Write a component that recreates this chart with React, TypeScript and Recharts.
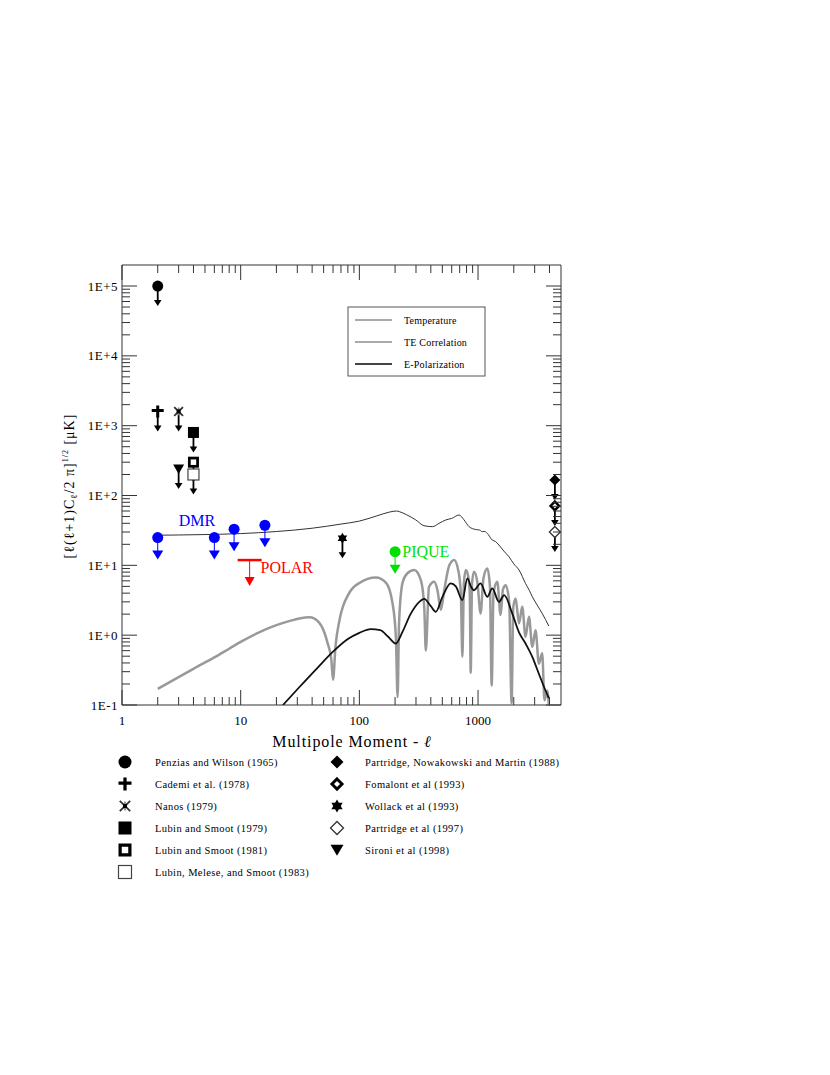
import React from 'react';
import { ComposedChart, Line, Scatter, XAxis, YAxis, ReferenceArea } from 'recharts';

// multipole l against [l(l+1)Cl/2pi]^1/2 in uK
const temperature = [
  { l: 2, v: 27 }, { l: 3, v: 27.2 }, { l: 5, v: 27.6 }, { l: 10, v: 28.5 }, { l: 20, v: 30.5 },
  { l: 40, v: 34 }, { l: 70, v: 39 }, { l: 100, v: 43 }, { l: 140, v: 51 }, { l: 180, v: 58 },
  { l: 205, v: 60 }, { l: 217, v: 58.8 }, { l: 250, v: 53 }, { l: 299, v: 44.7 }, { l: 350, v: 37 },
  { l: 413, v: 35.8 }, { l: 470, v: 40 }, { l: 535, v: 44.7 }, { l: 600, v: 47 }, { l: 692, v: 52.6 },
  { l: 760, v: 45 }, { l: 840, v: 35.8 }, { l: 955, v: 32.6 }, { l: 1030, v: 32 }, { l: 1087, v: 30.4 },
  { l: 1140, v: 30.5 }, { l: 1197, v: 28.7 }, { l: 1318, v: 23 }, { l: 1400, v: 22 }, { l: 1500, v: 19.5 },
  { l: 1650, v: 16 }, { l: 1820, v: 13.3 }, { l: 2000, v: 10.5 }, { l: 2213, v: 8.6 }, { l: 2513, v: 5.5 },
  { l: 2700, v: 4.4 }, { l: 2865, v: 3.55 }, { l: 3150, v: 2.7 }, { l: 3470, v: 2.05 }, { l: 3950, v: 1.35 },
];

const teCorrelation = [
  { l: 2, v: 0.17 }, { l: 3, v: 0.25 }, { l: 4, v: 0.33 }, { l: 6, v: 0.48 }, { l: 8, v: 0.64 },
  { l: 10, v: 0.8 }, { l: 14, v: 1.08 }, { l: 20, v: 1.39 }, { l: 26, v: 1.6 }, { l: 32, v: 1.75 },
  { l: 38, v: 1.8 }, { l: 46, v: 1.5 }, { l: 54, v: 0.77 }, { l: 58, v: 0.45 },
  { l: 60, v: 0.23 }, { l: 63, v: 0.7 }, { l: 68, v: 1.64 }, { l: 82, v: 4.0 }, { l: 100, v: 5.6 },
  { l: 138, v: 6.7 }, { l: 168, v: 5.6 }, { l: 190, v: 2.9 }, { l: 203, v: 0.95 }, { l: 210, v: 0.13 },
  { l: 216, v: 1.5 }, { l: 231, v: 5.6 }, { l: 254, v: 7.7 }, { l: 290, v: 8.6 }, { l: 330, v: 6.1 },
  { l: 352, v: 2.55 }, { l: 363, v: 0.6 }, { l: 386, v: 4.9 }, { l: 427, v: 5.8 }, { l: 455, v: 4.4 },
  { l: 486, v: 2.3 }, { l: 519, v: 4.4 }, { l: 573, v: 10 }, { l: 629, v: 11.9 }, { l: 680, v: 8.6 },
  { l: 716, v: 4 }, { l: 738, v: 0.49 }, { l: 760, v: 5.6 }, { l: 788, v: 8.6 }, { l: 829, v: 6.8 },
  { l: 852, v: 4 }, { l: 867, v: 0.29 }, { l: 890, v: 5.5 }, { l: 925, v: 8.1 }, { l: 990, v: 5.5 },
  { l: 1050, v: 2.05 }, { l: 1110, v: 6.5 }, { l: 1197, v: 9.0 }, { l: 1260, v: 5 }, { l: 1303, v: 0.19 },
  { l: 1350, v: 4 }, { l: 1452, v: 5.8 }, { l: 1550, v: 1.94 }, { l: 1620, v: 4.5 }, { l: 1710, v: 5.2 },
  { l: 1830, v: 3 }, { l: 1918, v: 0.106 }, { l: 1980, v: 2.5 }, { l: 2074, v: 3.36 }, { l: 2213, v: 1.47 },
  { l: 2357, v: 2.55 }, { l: 2513, v: 0.945 }, { l: 2685, v: 1.83 }, { l: 2865, v: 0.68 }, { l: 3050, v: 1.18 },
  { l: 3255, v: 0.39 }, { l: 3470, v: 0.55 }, { l: 3630, v: 0.117 }, { l: 3830, v: 0.16 }, { l: 3950, v: 0.1 },
];

const ePolarization = [
  { l: 22.7, v: 0.1 }, { l: 31, v: 0.178 }, { l: 45, v: 0.35 }, { l: 60, v: 0.58 }, { l: 80, v: 0.88 },
  { l: 100, v: 1.08 }, { l: 125, v: 1.22 }, { l: 150, v: 1.18 }, { l: 175, v: 0.95 }, { l: 203, v: 0.76 },
  { l: 230, v: 1.1 }, { l: 270, v: 2.0 }, { l: 320, v: 3.0 }, { l: 352, v: 3.3 }, { l: 400, v: 2.6 },
  { l: 441, v: 2.16 }, { l: 500, v: 3.5 }, { l: 589, v: 5.5 }, { l: 650, v: 5.0 }, { l: 738, v: 3.18 },
  { l: 813, v: 6.5 }, { l: 870, v: 5.0 }, { l: 925, v: 4.4 }, { l: 1050, v: 5.5 }, { l: 1197, v: 3.55 },
  { l: 1318, v: 4.67 }, { l: 1500, v: 3.0 }, { l: 1660, v: 3.75 }, { l: 1940, v: 2.05 }, { l: 2213, v: 1.1 },
  { l: 2513, v: 0.76 }, { l: 2865, v: 0.49 }, { l: 3255, v: 0.28 }, { l: 3710, v: 0.16 }, { l: 3950, v: 0.125 },
];

// upper limits
const penzias = [{ l: 2, v: 100000 }];
const cademi = [{ l: 2, v: 1600 }];
const nanos = [{ l: 3, v: 1600 }];
const lubin79 = [{ l: 4, v: 800 }];
const lubin81 = [{ l: 4, v: 300 }];
const lubin83 = [{ l: 4, v: 200 }];
const sironi = [{ l: 3, v: 240 }];
const partridge88 = [{ l: 4440, v: 167 }];
const fomalont = [{ l: 4440, v: 71 }];
const wollack = [{ l: 72, v: 24.4 }];
const partridge97 = [{ l: 4440, v: 30 }];
const dmr = [{ l: 2, v: 25 }, { l: 6, v: 25 }, { l: 8.8, v: 33 }, { l: 16, v: 37.5 }];
const polar = [{ l: 11.9, v: 11.9 }];
const pique = [{ l: 200, v: 15.7 }];

const annotations = [
  { l: 3, v: 37, text: 'DMR' },
  { l: 14.7, v: 7.75, text: 'POLAR' },
  { l: 230, v: 13.2, text: 'PIQUE' },
];

const xTicks = [
  1, 2, 3, 4, 5, 6, 7, 8, 9, 10, 20, 30, 40, 50, 60, 70, 80, 90,
  100, 200, 300, 400, 500, 600, 700, 800, 900, 1000, 2000, 3000, 4000,
];
const yTicks = [
  0.1, 0.2, 0.3, 0.4, 0.5, 0.6, 0.7, 0.8, 0.9, 1, 2, 3, 4, 5, 6, 7, 8, 9,
  10, 20, 30, 40, 50, 60, 70, 80, 90, 100, 200, 300, 400, 500, 600, 700, 800, 900,
  1000, 2000, 3000, 4000, 5000, 6000, 7000, 8000, 9000,
  10000, 20000, 30000, 40000, 50000, 60000, 70000, 80000, 90000, 100000,
];
const xTickLabels: Record<number, string> = { 1: '1', 10: '10', 100: '100', 1000: '1000' };
const yTickLabels: Record<number, string> = {
  0.1: '1E-1', 1: '1E+0', 10: '1E+1', 100: '1E+2', 1000: '1E+3', 10000: '1E+4', 100000: '1E+5',
};

const FONT = '"Liberation Serif", "DejaVu Serif", serif';
const AXIS = '#333';
const PLOT_W = 439;
const PLOT_H = 440;

type Kind =
  | 'circle' | 'cross' | 'nanos' | 'square' | 'squareHole' | 'squareOpen'
  | 'diamond' | 'diamondHole' | 'diamondOpen' | 'star6' | 'triDown';

const experiments: { name: string; data: { l: number; v: number }[]; kind: Kind }[] = [
  { name: 'Penzias and Wilson (1965)', data: penzias, kind: 'circle' },
  { name: 'Cademi et al. (1978)', data: cademi, kind: 'cross' },
  { name: 'Nanos (1979)', data: nanos, kind: 'nanos' },
  { name: 'Lubin and Smoot (1979)', data: lubin79, kind: 'square' },
  { name: 'Lubin and Smoot (1981)', data: lubin81, kind: 'squareHole' },
  { name: 'Lubin, Melese, and Smoot (1983)', data: lubin83, kind: 'squareOpen' },
  { name: 'Partridge, Nowakowski and Martin (1988)', data: partridge88, kind: 'diamond' },
  { name: 'Fomalont et al (1993)', data: fomalont, kind: 'diamondHole' },
  { name: 'Wollack et al (1993)', data: wollack, kind: 'star6' },
  { name: 'Partridge et al (1997)', data: partridge97, kind: 'diamondOpen' },
  { name: 'Sironi et al (1998)', data: sironi, kind: 'triDown' },
];

const annotationColor: Record<string, string> = { DMR: '#0000ff', POLAR: '#ff0000', PIQUE: '#00e000' };

function isDecade(v: number) {
  const lg = Math.log10(v);
  return Math.abs(lg - Math.round(lg)) < 1e-9;
}

function Symbol({ kind, cx, cy, s }: { kind: Kind; cx: number; cy: number; s: number }) {
  const diamond = `M${cx},${cy - s} L${cx + s},${cy} L${cx},${cy + s} L${cx - s},${cy} Z`;
  switch (kind) {
    case 'circle':
      return <circle cx={cx} cy={cy} r={s} fill="#000" />;
    case 'cross':
      return (
        <path
          d={`M${cx - s},${cy - 1} H${cx + s} M${cx},${cy - s} V${cy + s}`}
          stroke="#000"
          strokeWidth={s * 0.5}
        />
      );
    case 'nanos':
      return (
        <g stroke="#333" strokeWidth={1.8}>
          <path d={`M${cx - s * 0.8},${cy - s * 0.8} L${cx + s * 0.8},${cy + s * 0.8} M${cx + s * 0.8},${cy - s * 0.8} L${cx - s * 0.8},${cy + s * 0.8}`} />
          <path d={`M${cx},${cy - s * 0.7} V${cy + s * 0.7}`} stroke="#888" />
          <rect x={cx - 2} y={cy - 2} width={4} height={4} fill="#000" stroke="none" />
        </g>
      );
    case 'square':
      return <rect x={cx - s} y={cy - s} width={2 * s} height={2 * s} fill="#000" />;
    case 'squareHole':
      return (
        <rect
          x={cx - s * 0.75} y={cy - s * 0.75} width={1.5 * s} height={1.5 * s}
          fill="#fff" stroke="#000" strokeWidth={s * 0.5}
        />
      );
    case 'squareOpen':
      return <rect x={cx - s} y={cy - s} width={2 * s} height={2 * s} fill="#fff" stroke="#444" strokeWidth={1.2} />;
    case 'diamond':
      return <path d={diamond} fill="#000" />;
    case 'diamondHole': {
      const t = s * 0.78;
      return (
        <path
          d={`M${cx},${cy - t} L${cx + t},${cy} L${cx},${cy + t} L${cx - t},${cy} Z`}
          fill="#fff" stroke="#000" strokeWidth={s * 0.45}
        />
      );
    }
    case 'diamondOpen':
      return <path d={diamond} fill="#fff" stroke="#333" strokeWidth={1.3} />;
    case 'star6':
      return (
        <g fill="#000">
          <path d={`M${cx},${cy - s} L${cx + 0.866 * s},${cy + 0.5 * s} L${cx - 0.866 * s},${cy + 0.5 * s} Z`} />
          <path d={`M${cx},${cy + s} L${cx + 0.866 * s},${cy - 0.5 * s} L${cx - 0.866 * s},${cy - 0.5 * s} Z`} />
        </g>
      );
    case 'triDown':
      return <path d={`M${cx - s},${cy - 0.8 * s} L${cx + s},${cy - 0.8 * s} L${cx},${cy + 0.9 * s} Z`} fill="#000" />;
  }
  return null;
}

function LimitMarker(props: any) {
  const { cx, cy, kind } = props;
  if (cx == null || cy == null) return null;
  const tip = cy + 20;
  return (
    <g>
      <line x1={cx} x2={cx} y1={cy} y2={tip - 4} stroke="#000" strokeWidth={1.8} />
      <path d={`M${cx - 3.8},${tip - 6} L${cx + 3.8},${tip - 6} L${cx},${tip} Z`} fill="#000" />
      <Symbol kind={kind} cx={cx} cy={cy} s={kind === 'cross' ? 6 : 5.5} />
    </g>
  );
}

function BlobLimit(props: any) {
  const { cx, cy, color } = props;
  if (cx == null || cy == null) return null;
  return (
    <g>
      <line x1={cx} x2={cx} y1={cy} y2={cy + 14} stroke={color} strokeWidth={1} />
      <path d={`M${cx - 5.5},${cy + 13} L${cx + 5.5},${cy + 13} L${cx},${cy + 22} Z`} fill={color} />
      <circle cx={cx} cy={cy} r={5.5} fill={color} />
    </g>
  );
}

function BarLimit(props: any) {
  const { cx, cy } = props;
  if (cx == null || cy == null) return null;
  const c = '#ff0000';
  return (
    <g>
      <line x1={cx - 12} x2={cx + 12} y1={cy} y2={cy} stroke={c} strokeWidth={2.5} />
      <line x1={cx} x2={cx} y1={cy} y2={cy + 18} stroke={c} strokeWidth={1} />
      <path d={`M${cx - 5},${cy + 17} L${cx + 5},${cy + 17} L${cx},${cy + 26} Z`} fill={c} />
    </g>
  );
}

function Annotation(props: any) {
  const { cx, cy, payload } = props;
  if (cx == null || cy == null) return null;
  return (
    <text x={cx} y={cy} fill={annotationColor[payload.text]} fontFamily={FONT} fontSize={16}>
      {payload.text}
    </text>
  );
}

function XTick(props: any) {
  const { x, y, payload } = props;
  const major = isDecade(payload.value);
  const len = major ? 15 : 8;
  return (
    <g>
      <line x1={x} x2={x} y1={y} y2={y - len} stroke={AXIS} />
      <line x1={x} x2={x} y1={y - PLOT_H} y2={y - PLOT_H + len} stroke={AXIS} />
      {xTickLabels[payload.value] && (
        <text x={x} y={y + 20} textAnchor="middle" fontFamily={FONT} fontSize={13} fill="#000">
          {xTickLabels[payload.value]}
        </text>
      )}
    </g>
  );
}

function YTick(props: any) {
  const { x, y, payload } = props;
  const major = isDecade(payload.value);
  const len = major ? 15 : 8;
  return (
    <g>
      <line x1={x} x2={x + len} y1={y} y2={y} stroke={AXIS} />
      <line x1={x + PLOT_W} x2={x + PLOT_W - len} y1={y} y2={y} stroke={AXIS} />
      {yTickLabels[payload.value] && (
        <text
          x={x - 4} y={y} dy="0.35em" textAnchor="end"
          fontFamily={FONT} fontSize={13} letterSpacing={0.5} fill="#000"
        >
          {yTickLabels[payload.value]}
        </text>
      )}
    </g>
  );
}

const curveLegend = [
  { name: 'Temperature', color: '#aaa' },
  { name: 'TE Correlation', color: '#aaa' },
  { name: 'E-Polarization', color: '#444' },
];

export default function App() {
  const left = experiments.slice(0, 6);
  const right = experiments.slice(6);
  return (
    <div style={{ position: 'absolute', left: 0, top: 0, width: 830, height: 1075, background: '#fff' }}>
      <div style={{ position: 'absolute', left: 0, top: 0 }}>
        <ComposedChart
          width={830}
          height={760}
          margin={{ top: 265, right: 269, bottom: 25, left: 62 }}
        >
          <XAxis
            dataKey="l"
            type="number"
            scale="log"
            domain={[1, 5000]}
            allowDataOverflow
            ticks={xTicks}
            interval={0}
            height={30}
            tickSize={0}
            tickMargin={0}
            axisLine={false}
            tickLine={false}
            tick={<XTick />}
          />
          <YAxis
            dataKey="v"
            type="number"
            scale="log"
            domain={[0.1, 200000]}
            allowDataOverflow
            ticks={yTicks}
            interval={0}
            width={60}
            tickSize={0}
            tickMargin={0}
            axisLine={false}
            tickLine={false}
            tick={<YTick />}
          />
          <ReferenceArea
            x1={1}
            x2={5000}
            y1={0.1}
            y2={200000}
            fill="none"
            fillOpacity={0}
            stroke={AXIS}
            strokeWidth={1}
            ifOverflow="visible"
          />
          <Line data={teCorrelation} dataKey="v" type="monotone" stroke="#999" strokeWidth={2.5} dot={false} isAnimationActive={false} />
          <Line data={ePolarization} dataKey="v" type="monotone" stroke="#111" strokeWidth={1.8} dot={false} isAnimationActive={false} />
          <Line data={temperature} dataKey="v" type="monotone" stroke="#333" strokeWidth={1} dot={false} isAnimationActive={false} />
          {experiments.map((e) => (
            <Scatter
              key={e.name}
              name={e.name}
              data={e.data}
              isAnimationActive={false}
              shape={(p: any) => <LimitMarker {...p} kind={e.kind} />}
            />
          ))}
          <Scatter data={dmr} isAnimationActive={false} shape={(p: any) => <BlobLimit {...p} color="#0000ff" />} />
          <Scatter data={pique} isAnimationActive={false} shape={(p: any) => <BlobLimit {...p} color="#00e000" />} />
          <Scatter data={polar} isAnimationActive={false} shape={(p: any) => <BarLimit {...p} />} />
          <Scatter data={annotations} isAnimationActive={false} shape={(p: any) => <Annotation {...p} />} />
        </ComposedChart>
      </div>
      <svg
        width={830}
        height={1075}
        style={{ position: 'absolute', left: 0, top: 0, pointerEvents: 'none' }}
        fontFamily={FONT}
      >
        {/* curve legend */}
        <rect x={348} y={307} width={137} height={69} fill="#fff" stroke="#555" strokeWidth={1} />
        {curveLegend.map((c, i) => (
          <g key={c.name}>
            <line x1={355} x2={392} y1={320 + i * 22} y2={320 + i * 22} stroke={c.color} strokeWidth={1.8} />
            <text x={404} y={320 + i * 22} dy="0.35em" fontSize={10} letterSpacing={0.2} fill="#000">
              {c.name}
            </text>
          </g>
        ))}
        {/* axis titles */}
        <text x={352} y={747} textAnchor="middle" fontSize={16} fill="#000" letterSpacing={0.9}>
          Multipole Moment - <tspan fontStyle="italic">ℓ</tspan>
        </text>
        <text
          transform="translate(74,486) rotate(-90)"
          textAnchor="middle"
          fontSize={14}
          letterSpacing={1}
          fill="#000"
        >
          <tspan>[ℓ(ℓ+1)C</tspan>
          <tspan fontSize={9} dy={3}>ℓ</tspan>
          <tspan dy={-3}>/2 π]</tspan>
          <tspan fontSize={8} dy={-6}>1/2</tspan>
          <tspan dy={6}> [μK]</tspan>
        </text>
        {/* experiment legend */}
        {left.map((e, i) => (
          <g key={e.name}>
            <Symbol kind={e.kind} cx={125} cy={762 + i * 22} s={6.5} />
            <text x={155} y={762 + i * 22} dy="0.35em" fontSize={10.5} letterSpacing={0.4} fill="#000">
              {e.name}
            </text>
          </g>
        ))}
        {right.map((e, i) => (
          <g key={e.name}>
            <Symbol kind={e.kind} cx={337} cy={762 + i * 22} s={6.5} />
            <text x={365} y={762 + i * 22} dy="0.35em" fontSize={10.5} letterSpacing={0.4} fill="#000">
              {e.name}
            </text>
          </g>
        ))}
      </svg>
    </div>
  );
}
